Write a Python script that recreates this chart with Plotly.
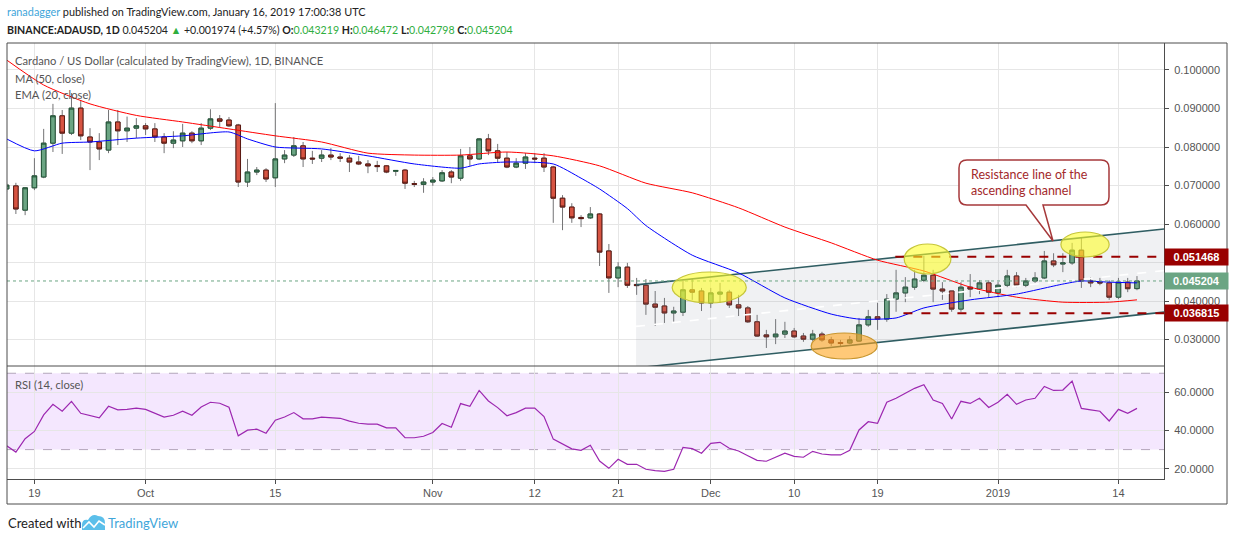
import plotly.graph_objects as go
import pandas as pd

# ---------------- data ----------------
dates = pd.date_range("2018-09-16", periods=123, freq="D")

opens = [0.0691, 0.0699, 0.0636, 0.0694, 0.0722, 0.0810, 0.0881, 0.0836, 0.0901, 0.0826,
         0.0813, 0.0792, 0.0865, 0.0842, 0.0849, 0.0855, 0.0847, 0.0826, 0.0810, 0.0816,
         0.0836, 0.0816, 0.0849, 0.0873, 0.0870, 0.0857, 0.0709, 0.0735, 0.0740, 0.0720,
         0.0769, 0.0779, 0.0803, 0.0771, 0.0771, 0.0779, 0.0774, 0.0771, 0.0761, 0.0756,
         0.0752, 0.0751, 0.0737, 0.0740, 0.0705, 0.0703, 0.0709, 0.0712, 0.0735, 0.0719,
         0.0777, 0.0769, 0.0821, 0.0790, 0.0771, 0.0748, 0.0758, 0.0771, 0.0771, 0.0748,
         0.0667, 0.0644, 0.0617, 0.0616, 0.0626, 0.0530, 0.0460, 0.0488, 0.0443, 0.0441,
         0.0392, 0.0387, 0.0369, 0.0371, 0.0429, 0.0426, 0.0395, 0.0418, 0.0423, 0.0390,
         0.0382, 0.0346, 0.0312, 0.0307, 0.0314, 0.0322, 0.0309, 0.0301, 0.0314, 0.0299,
         0.0292, 0.0291, 0.0296, 0.0338, 0.0359, 0.0353, 0.0405, 0.0421, 0.0436, 0.0454,
         0.0467, 0.0431, 0.0426, 0.0379, 0.0436, 0.0431, 0.0447, 0.0421, 0.0441, 0.0465,
         0.0441, 0.0452, 0.0460, 0.0504, 0.0496, 0.0499, 0.0532, 0.0452, 0.0449, 0.0447,
         0.0410, 0.0449, 0.043219]

highs = [0.0707, 0.0707, 0.0696, 0.0771, 0.0847, 0.0912, 0.0896, 0.0940, 0.0922, 0.0849,
         0.0836, 0.0896, 0.0896, 0.0879, 0.0875, 0.0862, 0.0862, 0.0836, 0.0841, 0.0860,
         0.0841, 0.0862, 0.0898, 0.0883, 0.0878, 0.0860, 0.0769, 0.0748, 0.0745, 0.0914,
         0.0792, 0.0826, 0.0813, 0.0790, 0.0792, 0.0797, 0.0784, 0.0779, 0.0777, 0.0766,
         0.0764, 0.0753, 0.0740, 0.0743, 0.0712, 0.0719, 0.0722, 0.0740, 0.0740, 0.0795,
         0.0800, 0.0823, 0.0834, 0.0808, 0.0787, 0.0771, 0.0784, 0.0784, 0.0784, 0.0751,
         0.0675, 0.0654, 0.0623, 0.0644, 0.0628, 0.0548, 0.0501, 0.0499, 0.0460, 0.0457,
         0.0426, 0.0408, 0.0385, 0.0452, 0.0457, 0.0434, 0.0434, 0.0447, 0.0429, 0.0416,
         0.0387, 0.0364, 0.0325, 0.0353, 0.0346, 0.0330, 0.0317, 0.0325, 0.0320, 0.0307,
         0.0299, 0.0309, 0.0356, 0.0377, 0.0395, 0.0418, 0.0481, 0.0462, 0.0481, 0.0517,
         0.0481, 0.0449, 0.0426, 0.0449, 0.0470, 0.0454, 0.0454, 0.0449, 0.0481, 0.0475,
         0.0460, 0.0475, 0.0530, 0.0524, 0.0524, 0.0551, 0.0564, 0.0462, 0.0460, 0.0454,
         0.0460, 0.0460, 0.046472]

lows = [0.0683, 0.0626, 0.0623, 0.0688, 0.0719, 0.0787, 0.0782, 0.0831, 0.0818, 0.0740,
        0.0766, 0.0784, 0.0805, 0.0813, 0.0823, 0.0831, 0.0813, 0.0784, 0.0797, 0.0800,
        0.0810, 0.0805, 0.0844, 0.0852, 0.0852, 0.0696, 0.0696, 0.0727, 0.0709, 0.0696,
        0.0758, 0.0774, 0.0748, 0.0756, 0.0761, 0.0766, 0.0761, 0.0735, 0.0753, 0.0732,
        0.0735, 0.0732, 0.0725, 0.0691, 0.0696, 0.0681, 0.0699, 0.0709, 0.0706, 0.0712,
        0.0751, 0.0766, 0.0779, 0.0761, 0.0745, 0.0745, 0.0743, 0.0758, 0.0735, 0.0603,
        0.0584, 0.0603, 0.0592, 0.0613, 0.0491, 0.0421, 0.0436, 0.0434, 0.0416, 0.0364,
        0.0335, 0.0343, 0.0343, 0.0361, 0.0403, 0.0374, 0.0382, 0.0395, 0.0382, 0.0361,
        0.0343, 0.0307, 0.0278, 0.0288, 0.0304, 0.0304, 0.0294, 0.0296, 0.0294, 0.0283,
        0.0281, 0.0288, 0.0294, 0.0333, 0.0325, 0.0346, 0.0372, 0.0397, 0.0429, 0.0449,
        0.0397, 0.0403, 0.0372, 0.0372, 0.0410, 0.0418, 0.0410, 0.0410, 0.0436, 0.0436,
        0.0436, 0.0447, 0.0457, 0.0488, 0.0475, 0.0494, 0.0434, 0.0436, 0.0441, 0.0403,
        0.0405, 0.0423, 0.042798]

closes = [0.0701, 0.0639, 0.0694, 0.0725, 0.0810, 0.0881, 0.0836, 0.0901, 0.0829, 0.0813,
          0.0795, 0.0865, 0.0842, 0.0849, 0.0855, 0.0847, 0.0826, 0.0810, 0.0818, 0.0836,
          0.0816, 0.0849, 0.0873, 0.0867, 0.0855, 0.0709, 0.0735, 0.0740, 0.0717, 0.0769,
          0.0779, 0.0803, 0.0769, 0.0769, 0.0779, 0.0774, 0.0771, 0.0761, 0.0756, 0.0751,
          0.0749, 0.0735, 0.0739, 0.0706, 0.0703, 0.0709, 0.0714, 0.0733, 0.0722, 0.0777,
          0.0769, 0.0821, 0.0790, 0.0771, 0.0748, 0.0758, 0.0774, 0.0769, 0.0748, 0.0667,
          0.0644, 0.0616, 0.0614, 0.0626, 0.0527, 0.0460, 0.0488, 0.0441, 0.0440, 0.0392,
          0.0384, 0.0369, 0.0374, 0.0429, 0.0423, 0.0395, 0.0421, 0.0423, 0.0390, 0.0382,
          0.0346, 0.0309, 0.0307, 0.0314, 0.0322, 0.0307, 0.0301, 0.0314, 0.0299, 0.0291,
          0.0290, 0.0299, 0.0338, 0.0359, 0.0353, 0.0405, 0.0421, 0.0436, 0.0457, 0.0467,
          0.0431, 0.0426, 0.0379, 0.0436, 0.0431, 0.0447, 0.0423, 0.0441, 0.0465, 0.0441,
          0.0452, 0.0460, 0.0504, 0.0494, 0.0499, 0.0532, 0.0452, 0.0447, 0.0447, 0.0410,
          0.0449, 0.0432, 0.045204]

rsi = [32.0, 28.7, 35.7, 39.5, 48.2, 53.7, 50.1, 55.3, 49.0, 48.0,
       46.6, 52.7, 50.8, 51.1, 51.7, 51.1, 48.9, 47.0, 48.0, 50.1,
       48.0, 52.3, 54.8, 54.3, 52.2, 37.2, 40.2, 40.7, 38.6, 45.4,
       47.1, 49.4, 46.1, 46.1, 47.0, 46.6, 46.4, 44.9, 43.8, 43.3,
       43.3, 41.4, 41.4, 36.2, 36.2, 37.0, 39.0, 43.7, 41.7, 54.1,
       52.7, 61.0, 55.5, 52.0, 47.7, 49.4, 51.7, 51.7, 47.3, 35.5,
       33.0, 30.4, 29.6, 32.3, 24.0, 20.2, 24.9, 22.3, 22.3, 19.7,
       19.0, 18.6, 19.7, 31.2, 30.5, 28.1, 33.3, 33.8, 30.7, 29.3,
       26.8, 24.4, 23.9, 26.1, 28.1, 26.5, 26.0, 29.1, 27.7, 27.2,
       27.2, 29.6, 40.3, 44.6, 43.8, 54.8, 56.9, 59.5, 62.1, 64.0,
       56.0, 54.2, 46.0, 55.3, 54.2, 56.9, 52.1, 54.8, 59.0, 53.7,
       56.0, 56.9, 63.1, 61.0, 61.2, 65.9, 51.6, 50.8, 50.1, 45.0,
       51.1, 49.0, 51.6]

# moving averages at selected candles (1-based candle numbers)
ma50_idx = [1, 5, 10, 15, 20, 25, 30, 35, 40, 45, 50, 55, 60, 65, 70, 75, 80, 85, 90,
            95, 100, 105, 110, 115, 120, 123]
ma50_val = [0.1026, 0.0961, 0.0912, 0.0882, 0.0865, 0.0847, 0.0829, 0.0813, 0.0784, 0.0779,
            0.0779, 0.0787, 0.0777, 0.0751, 0.0706, 0.0681, 0.0642, 0.0592, 0.0551,
            0.0506, 0.0478, 0.0436, 0.0410, 0.0397, 0.0397, 0.0403]
ema20_idx = [1, 4, 7, 10, 15, 20, 25, 27, 30, 35, 40, 45, 50, 52, 55, 60, 63, 65, 68, 70,
             75, 80, 85, 90, 93, 97, 100, 105, 110, 115, 117, 120, 123]
ema20_val = [0.0821, 0.0790, 0.0810, 0.0813, 0.0823, 0.0829, 0.0839, 0.0821, 0.0800, 0.0795,
             0.0777, 0.0756, 0.0745, 0.0756, 0.0761, 0.0756, 0.0719, 0.0691, 0.0640, 0.0596,
             0.0519, 0.0473, 0.0408, 0.0366, 0.0353, 0.0356, 0.0382, 0.0403, 0.0418, 0.0444,
             0.0452, 0.0449, 0.0447]

# drawings
channel_x = ["2018-11-22 22:30", "2019-01-18 22:00"]
channel_upper = [0.0442, 0.0587]
channel_lower = [0.0226, 0.0371]
resistance_level = 0.051468
resistance_start = "2018-12-20 22:00"
support_level = 0.036815
support_start = "2018-12-21 19:00"
yellow_ellipses = [  # (x0, x1, y0, y1)
    ("2018-11-26 20:00", "2018-12-04 20:00", 0.03948, 0.04753),
    ("2018-12-21 21:00", "2018-12-26 22:00", 0.04701, 0.05481),
    ("2019-01-07 19:00", "2019-01-13 00:00", 0.05143, 0.05792),
]
orange_ellipse = ("2018-12-11 20:00", "2018-12-18 23:00", 0.02494, 0.03169)

x_range = ["2018-09-16 01:00", "2019-01-18 22:00"]
price_range = [0.02312, 0.10701]
rsi_range = [14.6, 73.8]
price_ticks = [0.03, 0.04, 0.05, 0.06, 0.07, 0.08, 0.09, 0.10]
price_ticktext = ["0.030000", "0.040000", "", "0.060000", "0.070000", "0.080000",
                  "0.090000", "0.100000"]
rsi_ticks = [20, 40, 60]
rsi_ticktext = ["20.0000", "40.0000", "60.0000"]
x_tickvals = ["2018-09-19", "2018-10-01", "2018-10-15", "2018-11-01", "2018-11-12",
              "2018-11-21", "2018-12-01", "2018-12-10", "2018-12-19", "2019-01-01", "2019-01-14"]
x_ticktext = ["19", "Oct", "15", "Nov", "12", "21", "Dec", "10", "19", "2019", "14"]

# ---------------- layout helpers (pixel -> paper) ----------------
PL, PR, PT, PB = 7, 1164, 43, 479
SPLIT = 366


def px(x):
    return (x - PL) / (PR - PL)


def py(y):
    return (PB - y) / (PB - PT)


TXT_FONT = "Lato, 'Open Sans', sans-serif"
AX_FONT = "'Liberation Sans', Arial, sans-serif"
GRID = "#e6e6e6"
FRAME = "#4d4d4d"

fig = go.Figure()

# channel fill and lines
fig.add_trace(go.Scatter(
    x=[channel_x[0], channel_x[1], channel_x[1], channel_x[0], channel_x[0]],
    y=[channel_upper[0], channel_upper[1], channel_lower[1], channel_lower[0], channel_upper[0]],
    fill="toself", fillcolor="rgba(130,140,160,0.12)", mode="lines",
    line=dict(width=0), hoverinfo="skip", showlegend=False, xaxis="x", yaxis="y"))
fig.add_trace(go.Scatter(x=channel_x, y=channel_upper, mode="lines",
                         line=dict(color="#2f5d62", width=1.6), showlegend=False,
                         hoverinfo="skip", xaxis="x", yaxis="y"))
fig.add_trace(go.Scatter(x=channel_x, y=channel_lower, mode="lines",
                         line=dict(color="#2f5d62", width=1.6), showlegend=False,
                         hoverinfo="skip", xaxis="x", yaxis="y"))
fig.add_trace(go.Scatter(x=channel_x,
                         y=[(a + b) / 2 for a, b in zip(channel_upper, channel_lower)],
                         mode="lines", line=dict(color="white", width=1.6, dash="dash"),
                         showlegend=False, hoverinfo="skip", xaxis="x", yaxis="y"))

# candle wicks (grey) then bodies
fig.add_trace(go.Candlestick(
    x=dates, open=opens, high=highs, low=lows, close=closes,
    increasing=dict(line=dict(color="#737375", width=1), fillcolor="#737375"),
    decreasing=dict(line=dict(color="#737375", width=1), fillcolor="#737375"),
    whiskerwidth=0, showlegend=False, hoverinfo="skip", xaxis="x", yaxis="y"))
fig.add_trace(go.Candlestick(
    x=dates, open=opens, close=closes,
    high=[max(o, c) for o, c in zip(opens, closes)],
    low=[min(o, c) for o, c in zip(opens, closes)],
    increasing=dict(line=dict(color="#225437", width=1), fillcolor="#6ba583"),
    decreasing=dict(line=dict(color="#5b1a13", width=1), fillcolor="#d75442"),
    whiskerwidth=0, showlegend=False, hoverinfo="skip", xaxis="x", yaxis="y"))

# moving averages
fig.add_trace(go.Scatter(x=[dates[i - 1] for i in ma50_idx], y=ma50_val, mode="lines",
                         line=dict(color="#ff0000", width=1, shape="spline", smoothing=0.6),
                         showlegend=False, hoverinfo="skip", xaxis="x", yaxis="y"))
fig.add_trace(go.Scatter(x=[dates[i - 1] for i in ema20_idx], y=ema20_val, mode="lines",
                         line=dict(color="#0000ff", width=1, shape="spline", smoothing=0.6),
                         showlegend=False, hoverinfo="skip", xaxis="x", yaxis="y"))

# horizontal levels
fig.add_trace(go.Scatter(x=[resistance_start, x_range[1]], y=[resistance_level] * 2,
                         mode="lines", line=dict(color="#990000", width=2, dash="dash"),
                         showlegend=False, hoverinfo="skip", xaxis="x", yaxis="y"))
fig.add_trace(go.Scatter(x=[support_start, x_range[1]], y=[support_level] * 2,
                         mode="lines", line=dict(color="#990000", width=2, dash="dash"),
                         showlegend=False, hoverinfo="skip", xaxis="x", yaxis="y"))

# RSI
fig.add_trace(go.Scatter(x=dates, y=rsi, mode="lines",
                         line=dict(color="#9c27b0", width=1.2),
                         showlegend=False, hoverinfo="skip", xaxis="x", yaxis="y2"))

shapes = []
# RSI band
shapes.append(dict(type="rect", xref="paper", yref="y2", x0=0, x1=1, y0=30, y1=70,
                   fillcolor="#f4e7fe", line=dict(width=0), layer="below"))
for lvl in (30, 70):
    shapes.append(dict(type="line", xref="paper", yref="y2", x0=0, x1=1, y0=lvl, y1=lvl,
                       line=dict(color="#b3a5bb", width=1, dash="dash"), layer="below"))
# current price dotted line
shapes.append(dict(type="line", xref="paper", yref="y", x0=0, x1=1,
                   y0=closes[-1], y1=closes[-1],
                   line=dict(color="#6ba583", width=1, dash="dot")))
# ellipses
for x0, x1, y0, y1 in yellow_ellipses:
    shapes.append(dict(type="circle", xref="x", yref="y", x0=x0, x1=x1, y0=y0, y1=y1,
                       fillcolor="rgba(255,255,40,0.6)",
                       line=dict(color="#c6c63a", width=1.2), layer="above"))
shapes.append(dict(type="circle", xref="x", yref="y", x0=orange_ellipse[0],
                   x1=orange_ellipse[1], y0=orange_ellipse[2], y1=orange_ellipse[3],
                   fillcolor="rgba(255,165,30,0.6)", line=dict(color="#c8962e", width=1.2),
                   layer="above"))


def P(x, y):
    return f"{px(x):.5f},{py(y):.5f}"


# callout box with tail (rounded)
L, R, T, B, r = 959, 1109, 160, 205, 8
callout_path = (f"M{P(L + r, T)} L{P(R - r, T)} Q{P(R, T)} {P(R, T + r)} "
                f"L{P(R, B - r)} Q{P(R, B)} {P(R - r, B)} L{P(1043, B)} L{P(1053, 241)} "
                f"L{P(1026, B)} L{P(L + r, B)} Q{P(L, B)} {P(L, B - r)} L{P(L, T + r)} "
                f"Q{P(L, T)} {P(L + r, T)} Z")
shapes.append(dict(type="path", xref="paper", yref="paper", path=callout_path,
                   fillcolor="white", line=dict(color="#a6393b", width=1.5), layer="above"))

# frames
shapes.append(dict(type="rect", xref="paper", yref="paper", x0=0, x1=px(1227),
                   y0=py(504), y1=1, line=dict(color=FRAME, width=1), layer="above"))
shapes.append(dict(type="line", xref="paper", yref="paper", x0=0, x1=1,
                   y0=py(SPLIT), y1=py(SPLIT), line=dict(color=FRAME, width=1), layer="above"))

# footer logo
logo = (f"M{P(82, 530)} L{P(82, 525)} Q{P(82, 519)} {P(88, 520)} Q{P(92, 513)} {P(98, 516)} "
        f"Q{P(105, 516)} {P(105, 523)} L{P(105, 530)} Z")
shapes.append(dict(type="path", xref="paper", yref="paper", path=logo,
                   fillcolor="#5bbfea", line=dict(width=0)))
shapes.append(dict(type="path", xref="paper", yref="paper",
                   path=f"M{P(83, 528)} L{P(89, 522)} L{P(94, 527)} L{P(99, 521)} L{P(105, 525)}",
                   line=dict(color="white", width=1.6)))

annotations = []


def note(x, y, text, size=12, color="#333333", anchor="left", **kw):
    annotations.append(dict(xref="paper", yref="paper", x=px(x), y=py(y), text=text,
                            showarrow=False, xanchor=anchor, yanchor="middle",
                            font=dict(family=TXT_FONT, size=size, color=color), **kw))


G = "#2fae3e"
note(5, 12, "<span style='color:#3fa6da'>ranadagger</span> published on TradingView.com, "
            "January 16, 2019 17:00:38 UTC", size=10.9, color="#222222")
note(5, 30, "<b>BINANCE:ADAUSD, 1D</b> 0.045204 <span style='color:%s'>▲</span> +0.001974 "
            "(+4.57%%) <b>O:</b><span style='color:%s'>0.043219</span> "
            "<b>H:</b><span style='color:%s'>0.046472</span> "
            "<b>L:</b><span style='color:%s'>0.042798</span> "
            "<b>C:</b><span style='color:%s'>0.045204</span>" % (G, G, G, G, G),
     size=10.6, color="#222222")
note(13, 61, "Cardano / US Dollar (calculated by TradingView), 1D, BINANCE", size=11.2,
     color="#555555")
note(13, 78, "MA (50, close)", size=11.2, color="#555555")
note(13, 95, "EMA (20, close)", size=11.2, color="#555555")
note(13, 384, "RSI (14, close)", size=11.2, color="#555555")
note(969, 182, "Resistance line of the<br>ascending channel", size=12.5, color="#a3292b",
     align="left")
note(6, 523, "Created with", size=13, color="#222222")
note(106, 523, "TradingView", size=13, color="#3fa6da")

# price badges on the right axis
for val, bg in ((resistance_level, "#990000"), (closes[-1], "#6ba583"),
                (support_level, "#990000")):
    annotations.append(dict(xref="paper", yref="y", x=1, y=val, text=f"<b>{val:.6f}</b>",
                            showarrow=False, xanchor="left", yanchor="middle",
                            bgcolor=bg, width=59, height=12, borderpad=2, align="center",
                            font=dict(family=AX_FONT, size=11, color="white")))

axis_font = dict(family=AX_FONT, size=11, color="#555555")
fig.update_layout(
    width=1234, height=541,
    margin=dict(l=PL, r=1234 - PR, t=PT, b=541 - PB),
    paper_bgcolor="white", plot_bgcolor="white",
    showlegend=False,
    xaxis=dict(type="date", range=x_range, anchor="y2", tickvals=x_tickvals,
               ticktext=x_ticktext, showgrid=True, gridcolor=GRID, gridwidth=1,
               ticks="outside", ticklen=4, tickcolor=FRAME, showline=True,
               linecolor=FRAME, tickfont=axis_font, rangeslider=dict(visible=False),
               zeroline=False),
    yaxis=dict(domain=[py(SPLIT), 1], range=price_range, side="right", anchor="x",
               tickvals=price_ticks, ticktext=price_ticktext, showgrid=True,
               gridcolor=GRID, ticks="outside", ticklen=4, tickcolor=FRAME,
               showline=True, linecolor=FRAME, tickfont=axis_font, zeroline=False,
               ticklabelstandoff=3),
    yaxis2=dict(domain=[0, py(SPLIT)], range=rsi_range, side="right", anchor="x",
                tickvals=rsi_ticks, ticktext=rsi_ticktext, showgrid=True, gridcolor=GRID,
                ticks="outside", ticklen=4, tickcolor=FRAME, showline=True,
                linecolor=FRAME, tickfont=axis_font, zeroline=False,
                ticklabelstandoff=3),
    shapes=shapes,
    annotations=annotations,
)

fig.write_html("out.html", config={"displayModeBar": False},
               post_script="document.body.style.margin='0';document.body.style.padding='0';")
